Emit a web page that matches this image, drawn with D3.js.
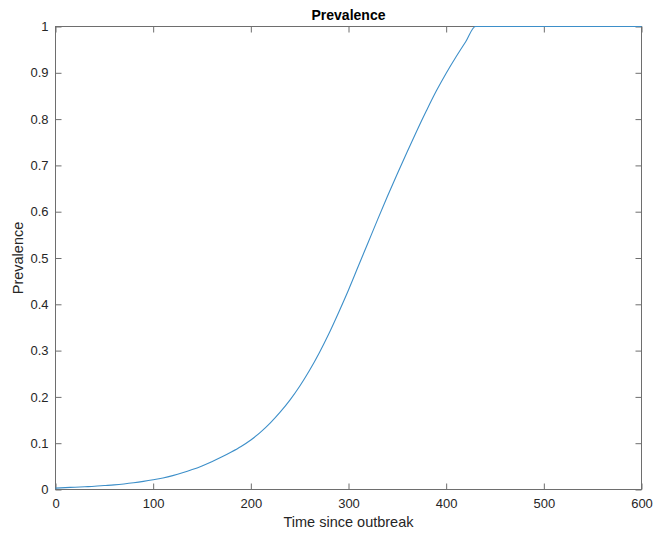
<!DOCTYPE html>
<html><head><meta charset="utf-8">
<script src="https://cdn.jsdelivr.net/npm/d3@7"></script>
<style>
html,body{margin:0;padding:0;background:#fff;}
svg{display:block;font-family:"Liberation Sans",Arial,Helvetica,sans-serif;}
</style></head><body>
<script>
const timeValues = [0,10,20,30,40,50,60,70,80,90,100,110,120,130,140,150,160,170,180,190,200,210,220,230,240,250,260,270,280,290,300,310,320,330,340,350,360,370,380,390,400,410,420,430,600];
const prevalenceValues = [0.003,0.004,0.005,0.006,0.007,0.0085,0.010,0.012,0.0145,0.0175,0.021,0.025,0.030,0.036,0.043,0.051,0.060,0.070,0.081,0.093,0.107,0.124,0.144,0.167,0.193,0.223,0.257,0.295,0.337,0.383,0.431,0.482,0.533,0.584,0.634,0.682,0.729,0.775,0.819,0.861,0.899,0.934,0.967,1.0,1.0];
const xTicks = [0,100,200,300,400,500,600];
const yTicks = [0,0.1,0.2,0.3,0.4,0.5,0.6,0.7,0.8,0.9,1];
const titleText = "Prevalence";
const xLabel = "Time since outbreak";
const yLabel = "Prevalence";

const W = 653, H = 535;
const L = 55.5, R = 641.5, T = 26.5, B = 489.5;
const svg = d3.select("body").append("svg").attr("width", W).attr("height", H);
const x = d3.scaleLinear().domain([0,600]).range([L,R]);
const y = d3.scaleLinear().domain([0,1]).range([B,T]);
const axisColor = "#6e6e6e", textColor = "#262626";

function style(g){
  g.select(".domain").remove();
  g.selectAll(".tick line").attr("stroke", axisColor);
  g.selectAll(".tick text").attr("fill", textColor).attr("font-size", 13);
}
svg.append("g").attr("transform",`translate(0,${B})`)
  .call(d3.axisBottom(x).tickValues(xTicks).tickSizeInner(-6).tickPadding(9).tickFormat(d3.format("d"))).call(style);
svg.append("g").attr("transform",`translate(0,${T})`)
  .call(d3.axisTop(x).tickValues(xTicks).tickSizeInner(-6).tickFormat("")).call(style);
svg.append("g").attr("transform",`translate(${L},0)`)
  .call(d3.axisLeft(y).tickValues(yTicks).tickSizeInner(-6).tickPadding(7).tickFormat(d=>String(d))).call(style);
svg.append("g").attr("transform",`translate(${R},0)`)
  .call(d3.axisRight(y).tickValues(yTicks).tickSizeInner(-6).tickFormat("")).call(style);

svg.append("rect").attr("x",L).attr("y",T).attr("width",R-L).attr("height",B-T)
  .attr("fill","none").attr("stroke",axisColor).attr("stroke-width",1);

const data = timeValues.map((t,i)=>({t, v: prevalenceValues[i]}));
svg.append("path").datum(data)
  .attr("fill","none").attr("stroke","#3d8fc9").attr("stroke-width",1.1)
  .attr("d", d3.line().x(d=>x(d.t)).y(d=>y(d.v)).curve(d3.curveMonotoneX));

svg.append("text").attr("x",(L+R)/2).attr("y",20).attr("text-anchor","middle")
  .attr("font-size",14).attr("font-weight","bold").attr("fill","#000").text(titleText);
svg.append("text").attr("x",(L+R)/2).attr("y",527).attr("text-anchor","middle")
  .attr("font-size",14.5).attr("fill",textColor).text(xLabel);
svg.append("text").attr("transform",`translate(23,${(T+B)/2}) rotate(-90)`).attr("text-anchor","middle")
  .attr("font-size",14.5).attr("fill",textColor).text(yLabel);
</script>
</body></html>
